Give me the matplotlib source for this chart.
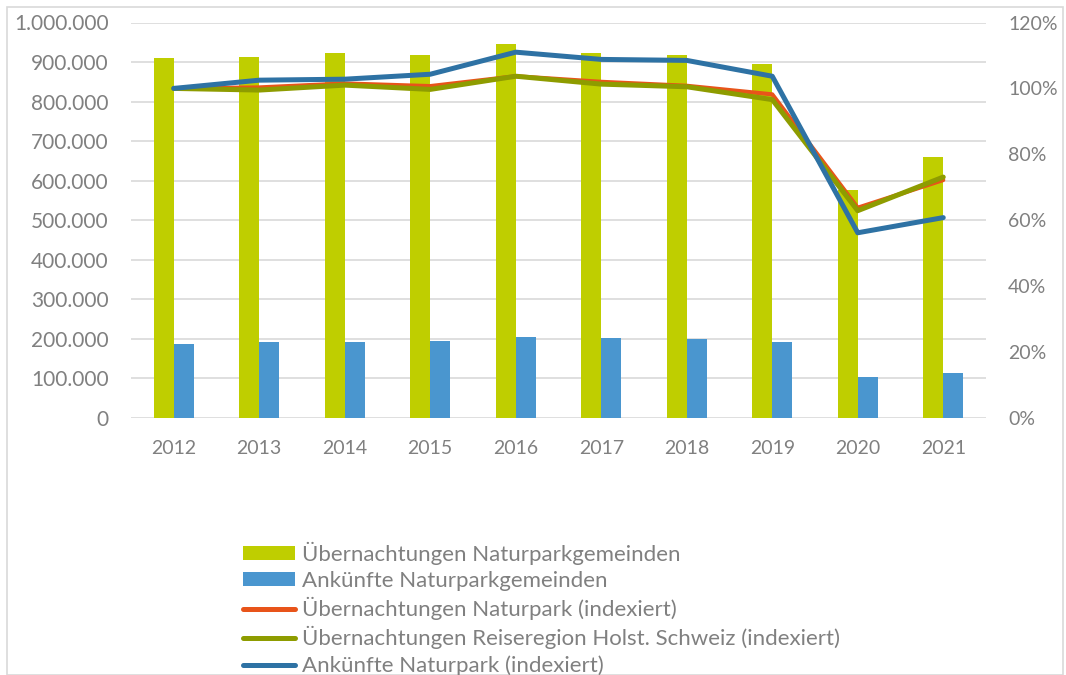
import matplotlib
matplotlib.use("Agg")
import matplotlib.pyplot as plt
from matplotlib.ticker import FuncFormatter, MultipleLocator
from matplotlib.patches import Rectangle
from matplotlib.lines import Line2D
from matplotlib.patches import Patch
import numpy as np

years = ["2012", "2013", "2014", "2015", "2016", "2017", "2018", "2019", "2020", "2021"]
uebernachtungen_gemeinden = [909000, 912000, 922000, 917000, 945000, 924000, 917000, 894000, 577000, 660000]
ankuenfte_gemeinden = [186000, 191000, 191000, 194000, 206000, 202000, 201000, 193000, 103000, 113000]
uebernachtungen_np_idx = [1.000, 1.003, 1.015, 1.007, 1.037, 1.020, 1.008, 0.982, 0.638, 0.722]
uebernachtungen_hs_idx = [1.000, 0.995, 1.010, 0.997, 1.037, 1.013, 1.005, 0.966, 0.629, 0.731]
ankuenfte_np_idx = [1.000, 1.025, 1.028, 1.043, 1.110, 1.088, 1.085, 1.037, 0.562, 0.608]

labels = ["Übernachtungen Naturparkgemeinden", "Ankünfte Naturparkgemeinden",
          "Übernachtungen Naturpark (indexiert)",
          "Übernachtungen Reiseregion Holst. Schweiz (indexiert)",
          "Ankünfte Naturpark (indexiert)"]

c_green = "#BFCE00"
c_blue_bar = "#4A96CF"
c_orange = "#E8541A"
c_olive = "#8E9C00"
c_blue_line = "#2E72A4"
c_text = "#808080"
c_grid = "#D9D9D9"

plt.rcParams['font.family'] = ['Lato', 'DejaVu Sans']

W, H = 1066, 675
fig = plt.figure(figsize=(W / 100, H / 100), dpi=100)
fig.patches.append(Rectangle((7 / W, 0), (1063 - 7) / W, 1 - 7 / H, transform=fig.transFigure,
                             fill=False, edgecolor="#D9D9D9", linewidth=1.2))

x0, x1 = 131, 986
ytop, ybot = 22.5, 418
ax = fig.add_axes([x0 / W, 1 - ybot / H, (x1 - x0) / W, (ybot - ytop) / H])
ax2 = ax.twinx()

x = np.arange(len(years))
bw = 20 / 85.5
ax.bar(x - bw / 2, uebernachtungen_gemeinden, width=bw, color=c_green, zorder=2)
ax.bar(x + bw / 2, ankuenfte_gemeinden, width=bw, color=c_blue_bar, zorder=2)
ax.set_xlim(-0.5, len(years) - 0.5)
ax.set_ylim(0, 1000000)
ax.yaxis.set_major_locator(MultipleLocator(100000))
ax.yaxis.set_major_formatter(FuncFormatter(lambda v, p: f"{int(v):,}".replace(",", ".")))
ax.grid(axis="y", color=c_grid, linewidth=1.2, zorder=0)
ax.set_axisbelow(True)
ax.set_xticks(x)
ax.set_xticklabels(years)

ax2.plot(x, uebernachtungen_np_idx, color=c_orange, linewidth=3.0, solid_capstyle="round", zorder=3)
ax2.plot(x, uebernachtungen_hs_idx, color=c_olive, linewidth=3.6, solid_capstyle="round", zorder=4)
ax2.plot(x, ankuenfte_np_idx, color=c_blue_line, linewidth=3.6, solid_capstyle="round", zorder=5)
ax2.set_ylim(0, 1.2)
ax2.yaxis.set_major_locator(MultipleLocator(0.2))
ax2.yaxis.set_major_formatter(FuncFormatter(lambda v, p: f"{round(v * 100)}%"))

for a in (ax, ax2):
    for s in a.spines.values():
        s.set_visible(False)
    a.tick_params(length=0, labelsize=14, labelcolor=c_text)
ax.tick_params(axis="y", pad=16, labelsize=15)
ax.tick_params(axis="x", pad=16)
ax2.tick_params(axis="y", pad=16)

handles = [Patch(facecolor=c_green), Patch(facecolor=c_blue_bar),
           Line2D([], [], color=c_orange, linewidth=3.6, solid_capstyle="round"),
           Line2D([], [], color=c_olive, linewidth=3.6, solid_capstyle="round"),
           Line2D([], [], color=c_blue_line, linewidth=3.6, solid_capstyle="round")]
leg = fig.legend(handles, labels, loc="upper left", bbox_to_anchor=(243 / W, 1 - 542 / H),
                 frameon=False, fontsize=16, labelcolor=c_text, handlelength=2.34,
                 handleheight=0.6, handletextpad=0.3, labelspacing=0.27, borderpad=0,
                 borderaxespad=0)

fig.savefig("out.png", dpi=100)
